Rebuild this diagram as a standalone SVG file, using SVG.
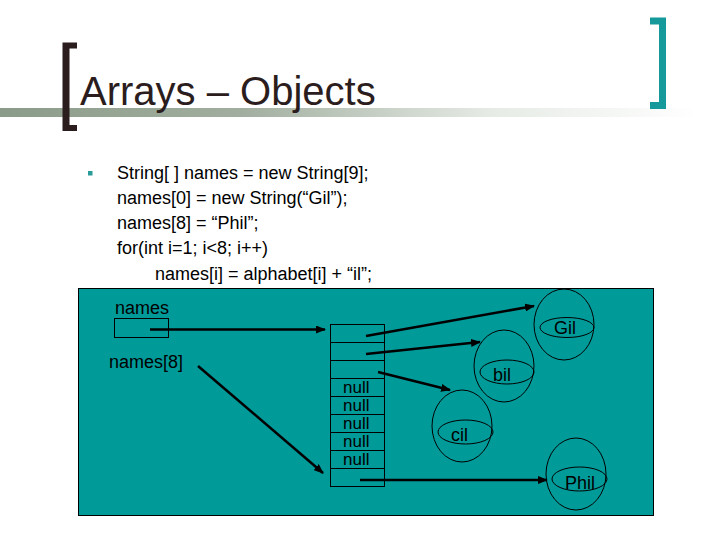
<svg xmlns="http://www.w3.org/2000/svg" width="720" height="540" viewBox="0 0 720 540">
<defs>
<linearGradient id="band" x1="0" y1="0" x2="1" y2="0">
<stop offset="0" stop-color="#8b9b89"/>
<stop offset="0.35" stop-color="#a2afa0"/>
<stop offset="0.7" stop-color="#e6ebe5"/>
<stop offset="1" stop-color="#ffffff"/>
</linearGradient>
<marker id="ah" markerWidth="10" markerHeight="8" refX="9" refY="4" orient="auto" markerUnits="userSpaceOnUse">
<path d="M0,0 L10,4 L0,8 z" fill="#000"/>
</marker>
<style>
.title{font-family:"Liberation Sans",Arial,sans-serif;font-size:40px;fill:#2b1d1d}
.code{font-family:"Liberation Sans",Arial,sans-serif;font-size:18px;fill:#000}
.lbl{font-family:"Liberation Sans",Arial,sans-serif;font-size:18px;fill:#000}
.nul{font-family:"Liberation Sans",Arial,sans-serif;font-size:17px;fill:#000}
.cell{fill:none;stroke:#000;stroke-width:1}
.obj{fill:none;stroke:#000;stroke-width:1}
.arr{stroke:#000;stroke-width:2.5;fill:none;marker-end:url(#ah)}
</style>
</defs>
<rect x="0" y="0" width="720" height="540" fill="#fff"/>
<!-- header -->
<rect x="0" y="108" width="700" height="9" fill="url(#band)"/>
<path d="M62.5,42.5 H77 V48.5 H69.5 V125 H77 V131 H62.5 Z" fill="#2b1d1d"/>
<path d="M650,17.5 H666 V109 H650 V102 H659 V24.5 H650 Z" fill="#16999a"/>
<text class="title" x="80" y="105">Arrays – Objects</text>
<!-- code -->
<rect x="88" y="171" width="4.5" height="4.5" fill="#2a9d9a"/>
<text class="code" x="117" y="179">String[ ] names = new String[9];</text>
<text class="code" x="117" y="204">names[0] = new String(“Gil”);</text>
<text class="code" x="117" y="229">names[8] = “Phil”;</text>
<text class="code" x="117" y="254">for(int i=1; i&lt;8; i++)</text>
<text class="code" x="155" y="280">names[i] = alphabet[i] + “il”;</text>
<!-- panel -->
<rect x="78.5" y="288.5" width="575" height="227" fill="#009a99" stroke="#000" stroke-width="1"/>
<g id="names-var">
<text class="lbl" x="115" y="314">names</text>
<rect class="cell" x="114.5" y="318.5" width="54" height="19"/>
</g>
<g id="names8-label">
<text class="lbl" x="109" y="368">names[8]</text>
</g>
<g id="array">
<rect class="cell" x="330.5" y="324.5" width="54" height="162"/>
<path class="cell" d="M330.5,342.5 H384.5 M330.5,360.5 H384.5 M330.5,378.5 H384.5 M330.5,396.5 H384.5 M330.5,414.5 H384.5 M330.5,432.5 H384.5 M330.5,450.5 H384.5 M330.5,468.5 H384.5"/>
<text class="nul" x="343" y="393">null</text>
<text class="nul" x="343" y="411">null</text>
<text class="nul" x="343" y="429">null</text>
<text class="nul" x="343" y="447">null</text>
<text class="nul" x="343" y="465">null</text>
</g>
<g id="obj-gil">
<ellipse class="obj" cx="564" cy="324.5" rx="30" ry="35.5"/>
<ellipse class="obj" cx="567" cy="327.5" rx="27" ry="10"/>
<text class="lbl" x="554" y="334">Gil</text>
</g>
<g id="obj-bil">
<ellipse class="obj" cx="504" cy="366" rx="30" ry="36"/>
<ellipse class="obj" cx="507" cy="372" rx="27" ry="12"/>
<text class="lbl" x="493" y="381">bil</text>
</g>
<g id="obj-cil">
<ellipse class="obj" cx="462" cy="426" rx="30" ry="36"/>
<ellipse class="obj" cx="465.5" cy="432" rx="27.5" ry="12"/>
<text class="lbl" x="451" y="441">cil</text>
</g>
<g id="obj-phil">
<ellipse class="obj" cx="576" cy="474" rx="30" ry="36"/>
<ellipse class="obj" cx="579.5" cy="479" rx="27.5" ry="12"/>
<text class="lbl" x="565" y="489">Phil</text>
</g>
<g id="connectors">
<line class="arr" x1="150" y1="329.5" x2="325" y2="329.5"/>
<line class="arr" x1="198" y1="366" x2="323" y2="473"/>
<line class="arr" x1="366" y1="336" x2="534" y2="306"/>
<line class="arr" x1="366" y1="354" x2="480" y2="342"/>
<line class="arr" x1="378" y1="372" x2="450" y2="390"/>
<line class="arr" x1="360" y1="480" x2="547" y2="480"/>
</g>
</svg>
